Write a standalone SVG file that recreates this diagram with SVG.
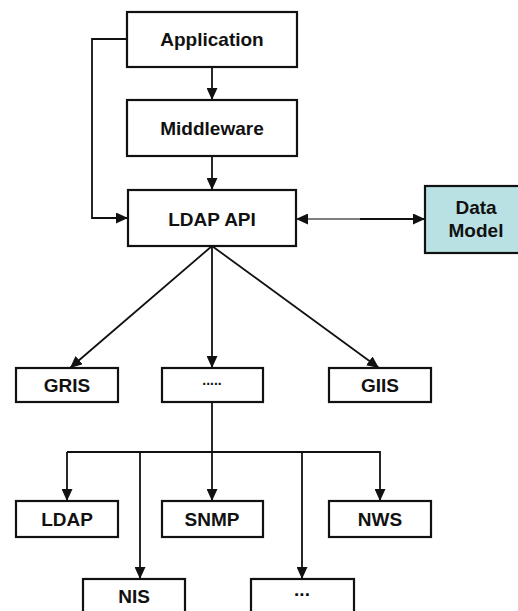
<svg xmlns="http://www.w3.org/2000/svg" width="518" height="611" viewBox="0 0 518 611">
  <style>
    .box { fill: #ffffff; stroke: #111111; stroke-width: 2.2; }
    .data { fill: #b9e1e4; stroke: #111111; stroke-width: 2.2; }
    .lbl { font-family: "Liberation Sans", Arial, sans-serif; font-weight: bold; font-size: 19px; fill: #111111; text-anchor: middle; }
    .wire { fill: none; stroke: #111111; stroke-width: 1.8; }
  </style>
  <defs>
    <marker id="arrow" markerUnits="userSpaceOnUse" markerWidth="12" markerHeight="11" refX="12" refY="5.5" orient="auto">
      <path d="M0,0 L12,5.5 L0,11 z" fill="#111111"/>
    </marker>
    <marker id="arrowStart" markerUnits="userSpaceOnUse" markerWidth="12" markerHeight="11" refX="0" refY="5.5" orient="auto">
      <path d="M12,0 L0,5.5 L12,11 z" fill="#111111"/>
    </marker>
  </defs>

  <rect width="518" height="611" fill="#ffffff"/>

  <g id="connectors">
    <!-- top stack -->
    <line class="wire" x1="212" y1="67" x2="212" y2="100" marker-end="url(#arrow)"/>
    <line class="wire" x1="212" y1="156" x2="212" y2="190" marker-end="url(#arrow)"/>
    <polyline class="wire" points="127,39 92,39 92,218 128,218" marker-end="url(#arrow)"/>
    <!-- LDAP API <-> Data Model -->
    <line x1="296" y1="219" x2="362" y2="219" stroke="#555555" stroke-width="1.6" marker-start="url(#arrowStart)"/>
    <line class="wire" x1="360" y1="219" x2="425" y2="219" marker-end="url(#arrow)"/>
    <!-- LDAP API fan-out -->
    <line class="wire" x1="212" y1="246" x2="70" y2="368" marker-end="url(#arrow)"/>
    <line class="wire" x1="212" y1="246" x2="212" y2="368" marker-end="url(#arrow)"/>
    <line class="wire" x1="212" y1="246" x2="379" y2="368" marker-end="url(#arrow)"/>
    <!-- provider bus -->
    <line class="wire" x1="212" y1="402" x2="212" y2="501" marker-end="url(#arrow)"/>
    <polyline class="wire" points="67,452 380,452 380,501" marker-end="url(#arrow)"/>
    <line class="wire" x1="67" y1="452" x2="67" y2="501" marker-end="url(#arrow)"/>
    <line class="wire" x1="140" y1="452" x2="140" y2="579" marker-end="url(#arrow)"/>
    <line class="wire" x1="302" y1="452" x2="302" y2="579" marker-end="url(#arrow)"/>
  </g>

  <g id="application">
    <rect class="box" x="127" y="12" width="170" height="55"/>
    <text class="lbl" x="212" y="46">Application</text>
  </g>
  <g id="middleware">
    <rect class="box" x="127" y="100" width="170" height="56"/>
    <text class="lbl" x="212" y="135">Middleware</text>
  </g>
  <g id="ldap-api">
    <rect class="box" x="128" y="190" width="168" height="56"/>
    <text class="lbl" x="212" y="226">LDAP API</text>
  </g>
  <g id="data-model">
    <rect class="data" x="425" y="186" width="103" height="67"/>
    <text class="lbl" x="476" y="214">Data</text>
    <text class="lbl" x="476" y="237">Model</text>
  </g>
  <g id="gris">
    <rect class="box" x="16" y="368" width="102" height="34"/>
    <text class="lbl" x="67" y="392">GRIS</text>
  </g>
  <g id="others">
    <rect class="box" x="162" y="368" width="101" height="34"/>
    <text class="lbl" x="212" y="385" style="font-size:14px">.....</text>
  </g>
  <g id="giis">
    <rect class="box" x="329" y="368" width="102" height="34"/>
    <text class="lbl" x="380" y="392">GIIS</text>
  </g>
  <g id="ldap">
    <rect class="box" x="16" y="501" width="102" height="36"/>
    <text class="lbl" x="67" y="526">LDAP</text>
  </g>
  <g id="snmp">
    <rect class="box" x="162" y="501" width="101" height="36"/>
    <text class="lbl" x="212" y="526">SNMP</text>
  </g>
  <g id="nws">
    <rect class="box" x="329" y="501" width="102" height="36"/>
    <text class="lbl" x="380" y="526">NWS</text>
  </g>
  <g id="nis">
    <rect class="box" x="83" y="579" width="102" height="36"/>
    <text class="lbl" x="134" y="603">NIS</text>
  </g>
  <g id="more">
    <rect class="box" x="251" y="579" width="103" height="36"/>
    <text class="lbl" x="302" y="596">...</text>
  </g>
</svg>
